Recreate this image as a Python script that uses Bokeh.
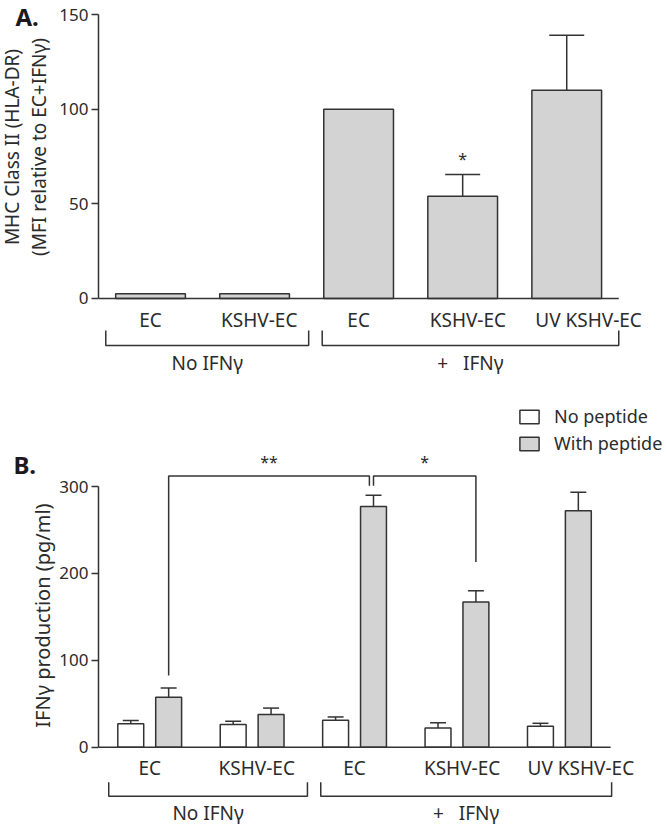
import numpy as np
from bokeh.plotting import figure
from bokeh.layouts import column, row
from bokeh.models import Legend, LegendItem, FixedTicker, Range1d
from bokeh.core.properties import value
from bokeh.embed import file_html
from bokeh.resources import INLINE

# ---------------- data ----------------
cells = ["EC", "KSHV-EC", "EC", "KSHV-EC", "UV KSHV-EC"]
treatments = ["No IFNγ", "+\u00a0\u00a0\u00a0IFNγ"]
treatment_first = [0, 2]
treatment_last = [1, 4]

# Panel A: MHC class II (HLA-DR), MFI relative to EC+IFNγ
mhc_mean = [2.5, 2.5, 100, 54, 110]
mhc_err = [0, 0, 0, 11.5, 29]
mhc_sig = ["", "", "", "*", ""]
mhc_ticks = [0, 50, 100, 150]
mhc_title = ["MHC Class II (HLA-DR)", "(MFI relative to EC+IFNγ)"]

# Panel B: IFNγ production (pg/ml)
no_pep = [27, 26, 31, 22, 24]
no_pep_err = [3.7, 3.8, 3.8, 6.1, 3.5]
with_pep = [57.5, 37.5, 277, 167, 272]
with_pep_err = [10.5, 7.5, 13, 13, 21.5]
ifn_ticks = [0, 100, 200, 300]
ifn_title = ["IFNγ production (pg/ml)"]
comparisons = [(0, 2, "**"), (2, 3, "*")]   # between "with peptide" bars
comparison_level = 312

# ---------------- style ----------------
FONT = "Noto Sans"
TXT = "#2b2b2b"
LINE = "#333333"
GRAY = "#d3d3d3"
TICK_FS = "17px"
CAT_FS = "19px"
W = 666
SIDE = 56                                  # strip holding panel letter + y title
label_dx = [0, 0.045, 0, 0.05, 0.21]       # small horizontal nudges of category texts


def base_fig(w, h, left, xr, yr):
    p = figure(width=w, height=h, x_range=Range1d(*xr), y_range=Range1d(*yr),
               output_backend="svg", toolbar_location=None, x_axis_location=None,
               min_border_left=left, min_border_right=0,
               min_border_top=0, min_border_bottom=0, title=None)
    p.grid.visible = False
    p.outline_line_color = None
    return p


def side_fig(h, y_range, letter, letter_x, letter_y, title_lines, title_x, title_y, title_fs):
    s = figure(width=SIDE, height=h, x_range=Range1d(0, SIDE), y_range=y_range,
               output_backend="svg", toolbar_location=None,
               x_axis_location=None, y_axis_location=None,
               min_border_left=0, min_border_right=0, min_border_top=0,
               min_border_bottom=0, title=None)
    s.grid.visible = False
    s.outline_line_color = None
    s.text(x=[letter_x], y=[letter_y], text=[letter], text_align="left",
           text_baseline="middle", text_font=value(FONT), text_font_size="24px",
           text_font_style="bold", text_color="#1a1a1a")
    s.text(x=title_x, y=[title_y] * len(title_lines), text=title_lines,
           angle=np.pi / 2, text_align="center", text_baseline="middle",
           text_font=value(FONT), text_font_size=title_fs, text_color=TXT)
    return s


def style_yaxis(ax, ticks):
    ax.bounds = (ticks[0], ticks[-1])
    ax.ticker = FixedTicker(ticks=ticks)
    ax.major_tick_out = 7
    ax.major_tick_in = 0
    ax.minor_tick_out = 0
    ax.minor_tick_in = 0
    ax.axis_line_width = 1.5
    ax.major_tick_line_width = 1.5
    ax.axis_line_color = LINE
    ax.major_tick_line_color = LINE
    ax.major_label_text_font = FONT
    ax.major_label_text_font_size = TICK_FS
    ax.major_label_text_color = TXT
    ax.major_label_standoff = 3


def txt(p, x, y, t, size=CAT_FS):
    p.text(x=x, y=y, text=t, text_align="center", text_baseline="middle",
           text_font=value(FONT), text_font_size=size, text_color=TXT)


def category_axis(p, n, pxy, lab_dy, br_top, br_bot, grp_dy, pads):
    p.segment(x0=[-0.5], y0=[0], x1=[n - 0.5], y1=[0], line_color=LINE, line_width=1.5)
    txt(p, [i + label_dx[i] for i in range(n)], [-lab_dy / pxy] * n, cells)
    xs, ys, cx = [], [], []
    for k, (s, e) in enumerate(zip(treatment_first, treatment_last)):
        xl = s - pads[k][0]
        xr = e + pads[k][1]
        xs.append([xl, xl, xr, xr])
        ys.append([-br_top / pxy, -br_bot / pxy, -br_bot / pxy, -br_top / pxy])
        cx.append((xl + xr) / 2)
    p.multi_line(xs=xs, ys=ys, line_color=LINE, line_width=1.5)
    txt(p, cx, [-grp_dy / pxy] * len(cx), treatments)


n = len(cells)
xA = list(range(n))

# ================= Panel A =================
A_H, A_LEFT = 403, 39
A_PXX, A_PXY = 104.6, 1.8933
a_x0 = -0.5
a_x1 = a_x0 + (W - SIDE - A_LEFT) / A_PXX
a_y1 = mhc_ticks[-1] + 14 / A_PXY
a_y0 = a_y1 - A_H / A_PXY

pA = base_fig(W - SIDE, A_H, A_LEFT, (a_x0, a_x1), (a_y0, a_y1))
style_yaxis(pA.yaxis[0], mhc_ticks)

pA.vbar(x=xA, top=mhc_mean, bottom=0, width=0.67, fill_color=GRAY,
        line_color=LINE, line_width=1.5)
ei = [i for i in xA if mhc_err[i] > 0]
etop = [mhc_mean[i] + mhc_err[i] for i in ei]
pA.segment(x0=ei, y0=[mhc_mean[i] for i in ei], x1=ei, y1=etop,
           line_color=LINE, line_width=1.5)
pA.segment(x0=[i - 0.168 for i in ei], y0=etop, x1=[i + 0.168 for i in ei], y1=etop,
           line_color=LINE, line_width=1.5)
si = [i for i in xA if mhc_sig[i]]
txt(pA, si, [mhc_mean[i] + mhc_err[i] + 15 / A_PXY for i in si],
    [mhc_sig[i] for i in si], size="16px")

category_axis(pA, n, A_PXY, 22, 32, 47, 65, [(0.43, 0.52), (0.35, 0.5)])

sA = side_fig(A_H, pA.y_range, "A.", 15, mhc_ticks[-1] - 1.5 / A_PXY,
              mhc_title, [11, 38], 80, "19px")

# ================= Panel B =================
B_H, B_LEFT = 422, 41
B_PXX, B_PXY = 102.6, 0.869
b_x0 = -0.5
b_x1 = b_x0 + (W - SIDE - B_LEFT) / B_PXX
b_y1 = ifn_ticks[-1] + 83 / B_PXY
b_y0 = b_y1 - B_H / B_PXY

pB = base_fig(W - SIDE, B_H, B_LEFT, (b_x0, b_x1), (b_y0, b_y1))
style_yaxis(pB.yaxis[0], ifn_ticks)

off, bw, cap = 0.185, 0.253, 0.078
xw = [i - off for i in xA]
xg = [i + off for i in xA]
rw = pB.vbar(x=xw, top=no_pep, bottom=0, width=bw, fill_color="white",
             line_color=LINE, line_width=1.5)
rg = pB.vbar(x=xg, top=with_pep, bottom=0, width=bw, fill_color=GRAY,
             line_color=LINE, line_width=1.5)
for xs_, m, e in ((xw, no_pep, no_pep_err), (xg, with_pep, with_pep_err)):
    t = [a + b for a, b in zip(m, e)]
    pB.segment(x0=xs_, y0=m, x1=xs_, y1=t, line_color=LINE, line_width=1.5)
    pB.segment(x0=[x - cap for x in xs_], y0=t, x1=[x + cap for x in xs_], y1=t,
               line_color=LINE, line_width=1.5)

# significance brackets
drop = 11  # short end tick where the two brackets meet
bxs, bys, sx, sy, st = [], [], [], [], []
for k, (a, b, s) in enumerate(comparisons):
    if k == 0:
        xa, xb = xg[a], xg[b] - 0.04
        ya = with_pep[a] + with_pep_err[a] + 14.5
        yb = comparison_level - drop
    else:
        xa, xb = xg[a], xg[b]
        ya = comparison_level - drop
        yb = with_pep[b] + with_pep_err[b] + 33
    bxs.append([xa, xa, xb, xb])
    bys.append([ya, comparison_level, comparison_level, yb])
    sx.append((xa + xb) / 2)
    sy.append(comparison_level + 14 / B_PXY)
    st.append(s)
pB.multi_line(xs=bxs, ys=bys, line_color=LINE, line_width=1.5)
txt(pB, sx, sy, st, size="16px")

category_axis(pB, n, B_PXY, 21, 35, 49, 66, [(0.40, 0.54), (0.33, 0.51)])

legend = Legend(items=[LegendItem(label="No peptide", renderers=[rw]),
                       LegendItem(label="With peptide", renderers=[rg])],
                location=(419, 370), glyph_width=24, glyph_height=17,
                label_standoff=13, spacing=3, padding=0, margin=0,
                border_line_color=None, background_fill_alpha=0,
                label_text_font=FONT, label_text_font_size="18px",
                label_text_color=TXT, label_height=17)
pB.add_layout(legend)

sB = side_fig(B_H, pB.y_range, "B.", 13, 325, ifn_title, [42], 151.5, "20px")

layout = column(row(sA, pA, spacing=0), row(sB, pB, spacing=0), spacing=0)
open("out.html", "w").write(file_html(layout, INLINE))
